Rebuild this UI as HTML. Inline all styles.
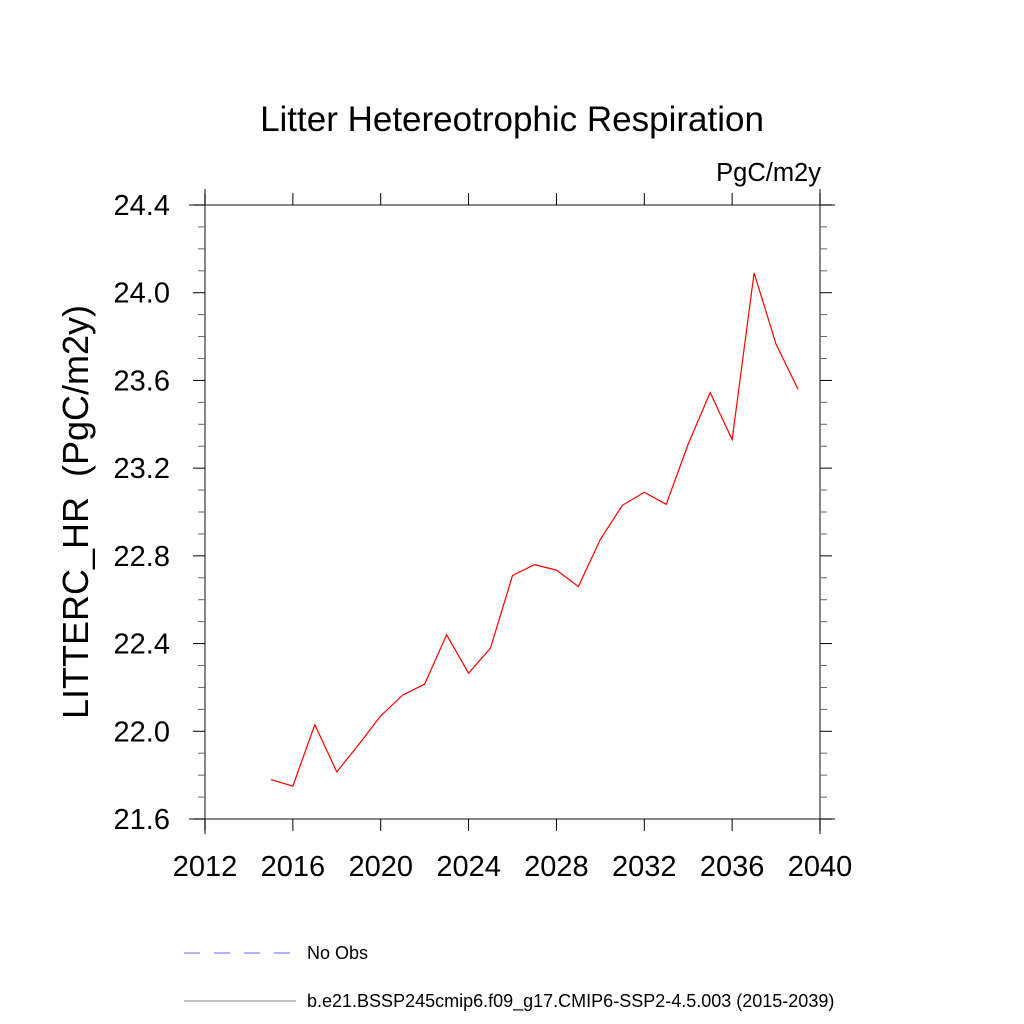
<!DOCTYPE html>
<html><head><meta charset="utf-8"><style>body{margin:0;background:#fff}svg{display:block}text{font-family:"Liberation Sans",sans-serif}</style></head>
<body>
<svg id="chart" width="1024" height="1024" xmlns="http://www.w3.org/2000/svg">
<rect width="1024" height="1024" fill="#fff"/>
<text x="512" y="131" font-size="35" text-anchor="middle">Litter Hetereotrophic Respiration</text>
<text x="821" y="181" font-size="25.5" text-anchor="end">PgC/m2y</text>
<text transform="translate(88,512) rotate(-90)" font-size="36" text-anchor="middle" xml:space="preserve">LITTERC_HR  (PgC/m2y)</text>
<g id="axes"></g>
<polyline id="series" fill="none" stroke="#ff0000" stroke-width="1.2"/>
<g>
<line x1="184" y1="953" x2="292" y2="953" stroke="#6666ff" stroke-width="1" stroke-dasharray="16,14"/>
<text x="307" y="959" font-size="18">No Obs</text>
<line x1="184" y1="1001" x2="296" y2="1001" stroke="#888" stroke-width="1"/>
<text x="307" y="1007" font-size="18">b.e21.BSSP245cmip6.f09_g17.CMIP6-SSP2-4.5.003 (2015-2039)</text>
</g>
</svg>
<script>
const years=[2015,2016,2017,2018,2019,2020,2021,2022,2023,2024,2025,2026,2027,2028,2029,2030,2031,2032,2033,2034,2035,2036,2037,2038,2039];
const values=[21.78,21.75,22.03,21.815,21.94,22.07,22.165,22.215,22.44,22.265,22.38,22.71,22.76,22.735,22.66,22.875,23.03,23.09,23.035,23.31,23.545,23.33,24.09,23.765,23.56];
const xTicks=[2012,2016,2020,2024,2028,2032,2036,2040];
const yTicks=[21.6,22.0,22.4,22.8,23.2,23.6,24.0,24.4];
const L=205,R=820,T=205,B=819;
const xS=v=>L+(v-2012)/(2040-2012)*(R-L);
const yS=v=>B-(v-21.6)/(24.4-21.6)*(B-T);
const ns="http://www.w3.org/2000/svg";
const g=document.getElementById('axes');
function ln(x1,y1,x2,y2,w,c,name){const e=document.createElementNS(ns,'line');e.setAttribute('x1',x1);e.setAttribute('y1',y1);e.setAttribute('x2',x2);e.setAttribute('y2',y2);e.setAttribute('stroke',c||'#000');e.setAttribute('stroke-width',w||1);


g.appendChild(e);}
function tx(x,y,s,a,name){const e=document.createElementNS(ns,'text');e.setAttribute('x',x);e.setAttribute('y',y);e.setAttribute('font-size',29);e.setAttribute('text-anchor',a);e.textContent=s;


g.appendChild(e);}
ln(L,189,L,834,1.3,'#444','left-axis');ln(R,189,R,834,1.3,'#444','right-axis');
ln(189,T,835,T,1.3,'#444','top-axis');ln(189,B,835,B,1.3,'#444','bottom-axis');
for(let v=21.6;v<=24.401;v+=0.1){const y=yS(v);const major=Math.abs((v-21.6)/0.4-Math.round((v-21.6)/0.4))<1e-6;const l=major?12:7;
ln(L-l,y,L,y,1,major?'#000':'#666','y-tick');ln(R,y,R+l,y,1,major?'#000':'#666','y-tick-right');}
yTicks.forEach(v=>tx(L-35,yS(v)+10,v.toFixed(1),'end','y-tick-label'));
xTicks.forEach(v=>{const x=xS(v);ln(x,B,x,B+12,1,'#000','x-tick');ln(x,T-12,x,T,1,'#000','x-tick-top');tx(x,B+57,String(v),'middle','x-tick-label');});
document.getElementById('series').setAttribute('points',years.map((y,i)=>xS(y)+','+yS(values[i])).join(' '));
</script>
</body></html>
